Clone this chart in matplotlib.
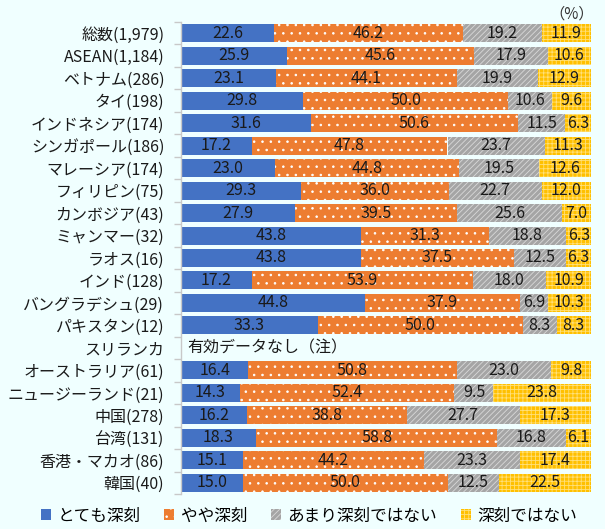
import matplotlib
matplotlib.use("Agg")
import matplotlib.pyplot as plt
from matplotlib.patches import Patch
import numpy as np

plt.rcParams['font.family'] = ['Noto Sans CJK JP', 'DejaVu Sans']
plt.rcParams['hatch.linewidth'] = 0.6

categories = ["総数(1,979)", "ASEAN(1,184)", "ベトナム(286)", "タイ(198)", "インドネシア(174)",
              "シンガポール(186)", "マレーシア(174)", "フィリピン(75)", "カンボジア(43)",
              "ミャンマー(32)", "ラオス(16)", "インド(128)", "バングラデシュ(29)", "パキスタン(12)",
              "スリランカ", "オーストラリア(61)", "ニュージーランド(21)", "中国(278)", "台湾(131)",
              "香港・マカオ(86)", "韓国(40)"]
very = [22.6, 25.9, 23.1, 29.8, 31.6, 17.2, 23.0, 29.3, 27.9, 43.8, 43.8, 17.2, 44.8, 33.3,
        np.nan, 16.4, 14.3, 16.2, 18.3, 15.1, 15.0]
somewhat = [46.2, 45.6, 44.1, 50.0, 50.6, 47.8, 44.8, 36.0, 39.5, 31.3, 37.5, 53.9, 37.9, 50.0,
            np.nan, 50.8, 52.4, 38.8, 58.8, 44.2, 50.0]
notvery = [19.2, 17.9, 19.9, 10.6, 11.5, 23.7, 19.5, 22.7, 25.6, 18.8, 12.5, 18.0, 6.9, 8.3,
           np.nan, 23.0, 9.5, 27.7, 16.8, 23.3, 12.5]
notatall = [11.9, 10.6, 12.9, 9.6, 6.3, 11.3, 12.6, 12.0, 7.0, 6.3, 6.3, 10.9, 10.3, 8.3,
            np.nan, 9.8, 23.8, 17.3, 6.1, 17.4, 22.5]
series_names = ["とても深刻", "やや深刻", "あまり深刻ではない", "深刻ではない"]
no_data_text = "有効データなし（注）"

bg = "#F0FFFF"
fig = plt.figure(figsize=(6.05, 5.29), dpi=100, facecolor=bg)
ax = fig.add_axes([181/605, 1-494/529, 410/605, 472/529])
ax.set_facecolor(bg)

styles = [
    dict(color="#4472C4", hatch=None, ec="#4472C4"),
    dict(color="#ED7D31", hatch="..", ec="white"),
    dict(color="#A5A5A5", hatch="//////", ec="#D9D9D9"),
    dict(color="#FFC000", hatch="++++", ec="#FFE07A"),
]

y = np.arange(len(categories))
data = [np.array(very), np.array(somewhat), np.array(notvery), np.array(notatall)]
left = np.zeros(len(categories))
for vals, st in zip(data, styles):
    v = np.nan_to_num(vals)
    ax.barh(y, v, left=left, height=0.8, color=st["color"], hatch=st["hatch"],
            edgecolor=st["ec"], linewidth=0)
    for i, val in enumerate(vals):
        if not np.isnan(val):
            ax.text(left[i] + val/2, y[i], f"{val:.1f}", ha="center", va="center",
                    fontsize=11.5, color="#1a1a1a")
    left += v

idx = categories.index("スリランカ")
ax.text(1.5, idx, no_data_text, ha="left", va="center", fontsize=11.5, color="#1a1a1a")

ax.set_xlim(0, 100)
ax.set_ylim(len(categories) - 0.5, -0.5)
ax.set_yticks(y)
ax.set_yticklabels(categories, fontsize=11.5, color="#1a1a1a")
ax.tick_params(axis='y', length=0, pad=12)
ax.set_yticks(np.arange(-0.5, len(categories)), minor=True)
ax.tick_params(axis='y', which='minor', length=5, color="#C8C8C8", width=1)
ax.set_xticks([])
for s in ["top", "right", "bottom"]:
    ax.spines[s].set_visible(False)
ax.spines["left"].set_color("#C8C8C8")
ax.spines["left"].set_linewidth(1)

fig.text(572/605, 1-14/529, "（%）", ha="center", va="center", fontsize=11, color="#333333")

handles = [Patch(facecolor=st["color"], hatch=st["hatch"], edgecolor=st["ec"], linewidth=0)
           for st in styles]
fig.legend(handles, series_names, loc="center", bbox_to_anchor=(0.511, 1-516/529), ncol=4,
           frameon=False, fontsize=12, handlelength=0.6, handleheight=0.6,
           handletextpad=0.4, columnspacing=1.4)

fig.savefig("out.png", dpi=100, facecolor=bg)
